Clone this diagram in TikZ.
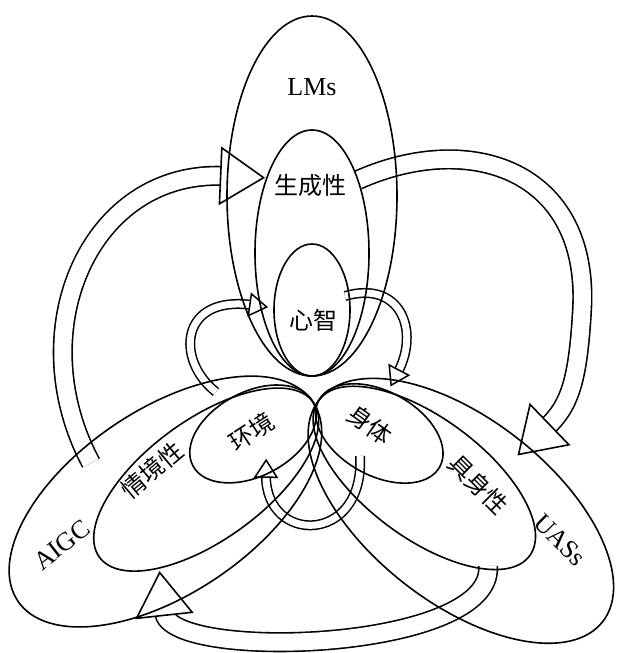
\documentclass[tikz,border=0pt]{standalone}
\usepackage{fontspec}
\setmainfont{Liberation Serif}
\newfontfamily\cjk{Noto Sans CJK SC}
\usetikzlibrary{decorations.markings}
\begin{document}
\begin{tikzpicture}[x=1pt,y=-1pt,
  ell/.style={line width=1.6pt},
  bigband/.style={line width=1.6pt, double=white, double distance=17pt,
    postaction={decorate,decoration={markings,mark=at position 0.999 with {
      \draw[line width=1.6pt,fill=white,line join=miter] (-3pt,28pt) -- (40pt,0pt) -- (-3pt,-28pt) -- cycle;}}}},
  smallband/.style={line width=1.5pt, double=white, double distance=7pt,
    postaction={decorate,decoration={markings,mark=at position 0.999 with {
      \draw[line width=1.5pt,fill=white,line join=miter] (-2pt,11pt) -- (15pt,0pt) -- (-2pt,-11pt) -- cycle;}}}},
  lab/.style={font=\fontsize{26}{28}\selectfont},
  clab/.style={font=\cjk\fontsize{24}{26}\selectfont}]
\useasboundingbox (0,0) rectangle (630,653);
% big bands
\draw[bigband] (358,180) .. controls (470,130) and (590,170) .. (582,310) .. controls (578,380) and (570,405) .. (547,427);
\draw[bigband] (91,463) .. controls (20,330) and (90,170) .. (224,176);
\draw[bigband] (488,566) .. controls (495,652) and (168,662) .. (164,612);
% small bands
\draw[smallband] (345,296) .. controls (400,280) and (420,330) .. (398,372);
\draw[smallband] (216,392) .. controls (175,360) and (180,295) .. (252,305);
\draw[smallband] (360,456) .. controls (365,545) and (265,545) .. (266,475);
% top family
\begin{scope}[shift={(312,376)},rotate=90]
 \draw[ell] (180,0) ellipse [x radius=180, y radius=85];
 \draw[ell] (123,0) ellipse [x radius=123, y radius=57];
 \draw[ell] (66,0) ellipse [x radius=66, y radius=38];
\end{scope}
% left family
\begin{scope}[shift={(313,402)}]
 \draw[ell,rotate=214] (178,0) ellipse [x radius=178, y radius=92];
 \draw[ell,rotate=216] (132,0) ellipse [x radius=132, y radius=60];
 \draw[ell,rotate=208] (68,0) ellipse [x radius=68, y radius=42];
\end{scope}
% right family
\begin{scope}[shift={(319,400)}]
 \draw[ell,rotate=-38] (180,0) ellipse [x radius=180, y radius=92];
 \draw[ell,rotate=-36.5] (131,0) ellipse [x radius=131, y radius=60];
 \draw[ell,rotate=-29] (69,0) ellipse [x radius=69, y radius=42];
\end{scope}
% labels
\node[lab] (lms) at (312,87) {LMs};
\node[clab] (gen) at (310,185) {生成性};
\node[clab] (mind) at (313,320) {心智};
\node[clab,rotate=33] (env) at (252,432) {环境};
\node[clab,rotate=40] (sit) at (152,470) {情境性};
\node[lab,rotate=38] (aigc) at (62,545) {AIGC};
\node[clab,rotate=-35] (body) at (370,425) {身体};
\node[clab,rotate=-45] (emb) at (478,485) {具身性};
\node[lab,rotate=-45] (uas) at (560,540) {UASs};
\end{tikzpicture}
\end{document}
